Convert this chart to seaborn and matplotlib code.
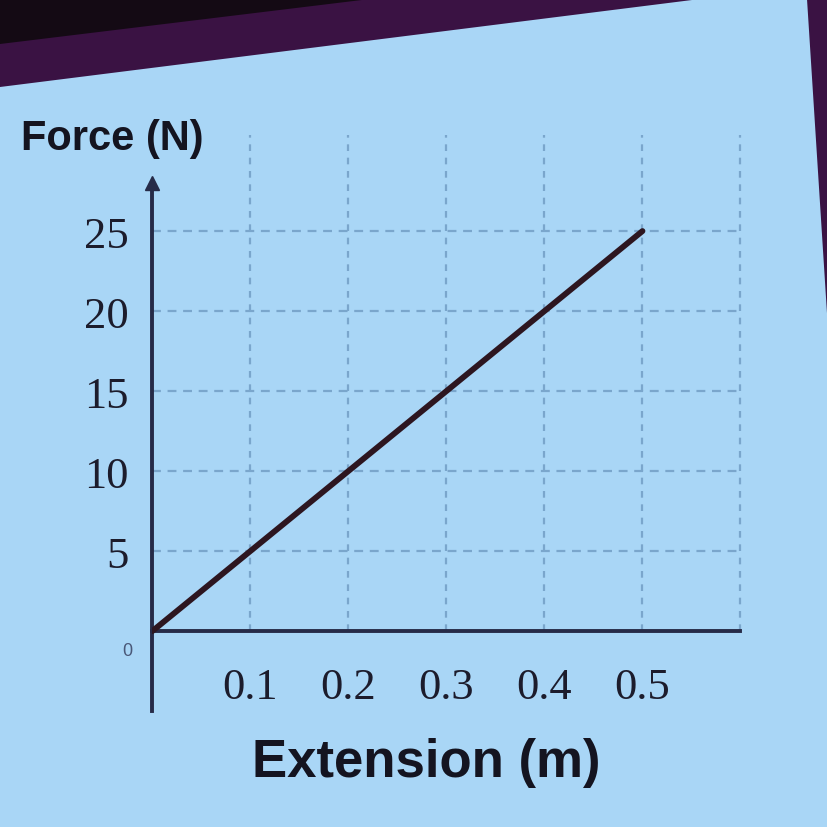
import matplotlib
matplotlib.use("Agg")
import matplotlib.pyplot as plt
import seaborn as sns
import pandas as pd
from matplotlib.patches import Polygon

# ---- data ----
extension_m = [0.0, 0.5]
force_n = [0.0, 25.0]
x_ticks = [0.1, 0.2, 0.3, 0.4, 0.5, 0.6]
x_tick_labels = ["0.1", "0.2", "0.3", "0.4", "0.5", ""]
y_ticks = [5, 10, 15, 20, 25]
y_tick_labels = ["5", "10", "15", "20", "25"]

sns.set_style("white")
plt.rcParams["font.family"] = ["Liberation Serif", "DejaVu Serif"]

bg = "#a9d6f6"
axis_col = "#262b48"
grid_col = "#7aa6cc"
line_col = "#2d1620"

fig = plt.figure(figsize=(8.28, 8.28), dpi=100, facecolor=bg)

# screen border decoration (photo of a projected slide)
fig.patches.append(Polygon([[0, 1], [0, 1 - 88 / 828], [700 / 828, 1]], closed=True,
                           transform=fig.transFigure, facecolor="#3a1243", edgecolor="none"))
fig.patches.append(Polygon([[0, 1], [0, 1 - 45 / 828], [370 / 828, 1]], closed=True,
                           transform=fig.transFigure, facecolor="#140a14", edgecolor="none"))
fig.patches.append(Polygon([[807 / 828, 1], [1, 1], [1, 1 - 330 / 828]], closed=True,
                           transform=fig.transFigure, facecolor="#3a1243", edgecolor="none"))

ax = fig.add_axes([0.184, 0.140, 0.734, 0.715])
ax.set_facecolor("none")
ax.set_xlim(0, 0.62)
ax.set_ylim(-5, 32)

# dashed grid
ax.hlines(y_ticks, 0, x_ticks[-1], colors=grid_col, linestyles=(0, (4, 3)), lw=1.6, zorder=1)
ax.vlines(x_ticks, 0, 31, colors=grid_col, linestyles=(0, (3, 3)), lw=1.6, zorder=1)

df = pd.DataFrame({"Extension (m)": extension_m, "Force (N)": force_n})
sns.lineplot(data=df, x="Extension (m)", y="Force (N)", color=line_col, lw=4.2, ax=ax,
             zorder=4, solid_capstyle="round")

# axes
for s in ["top", "right"]:
    ax.spines[s].set_visible(False)
ax.spines["bottom"].set_position(("data", 0))
ax.spines["bottom"].set_bounds(0, x_ticks[-1])
ax.spines["left"].set_bounds(-5, 28)
for s in ["bottom", "left"]:
    ax.spines[s].set_color(axis_col)
    ax.spines[s].set_linewidth(2.8)
ax.plot([0], [28], marker="^", markersize=10, color=axis_col, clip_on=False, zorder=5)

ax.set_xticks(x_ticks)
ax.set_xticklabels(x_tick_labels)
ax.set_yticks(y_ticks)
ax.set_yticklabels(y_tick_labels)
ax.tick_params(axis="x", direction="out", length=12, width=2.8, color=axis_col,
               labelsize=32, labelcolor="#1c1c2c", pad=14)
ax.tick_params(axis="y", direction="out", length=15, width=2.2, color=axis_col,
               labelsize=32, labelcolor="#1c1c2c", pad=2)
ax.set_xlabel("")
ax.set_ylabel("")

ax.text(-0.02, -1.2, "0", ha="right", va="center", fontsize=13, color="#4a5878",
        family=["Liberation Sans", "DejaVu Sans"])

fig.text(0.025, 0.832, "Force (N)", fontsize=30, fontweight="bold", color="#141420",
         family=["Liberation Sans", "DejaVu Sans"], ha="left", va="center")
fig.text(0.515, 0.078, "Extension (m)", fontsize=38, fontweight="bold", color="#141420",
         family=["Liberation Sans", "DejaVu Sans"], ha="center", va="center")

fig.savefig("out.png", dpi=100, facecolor=bg)
